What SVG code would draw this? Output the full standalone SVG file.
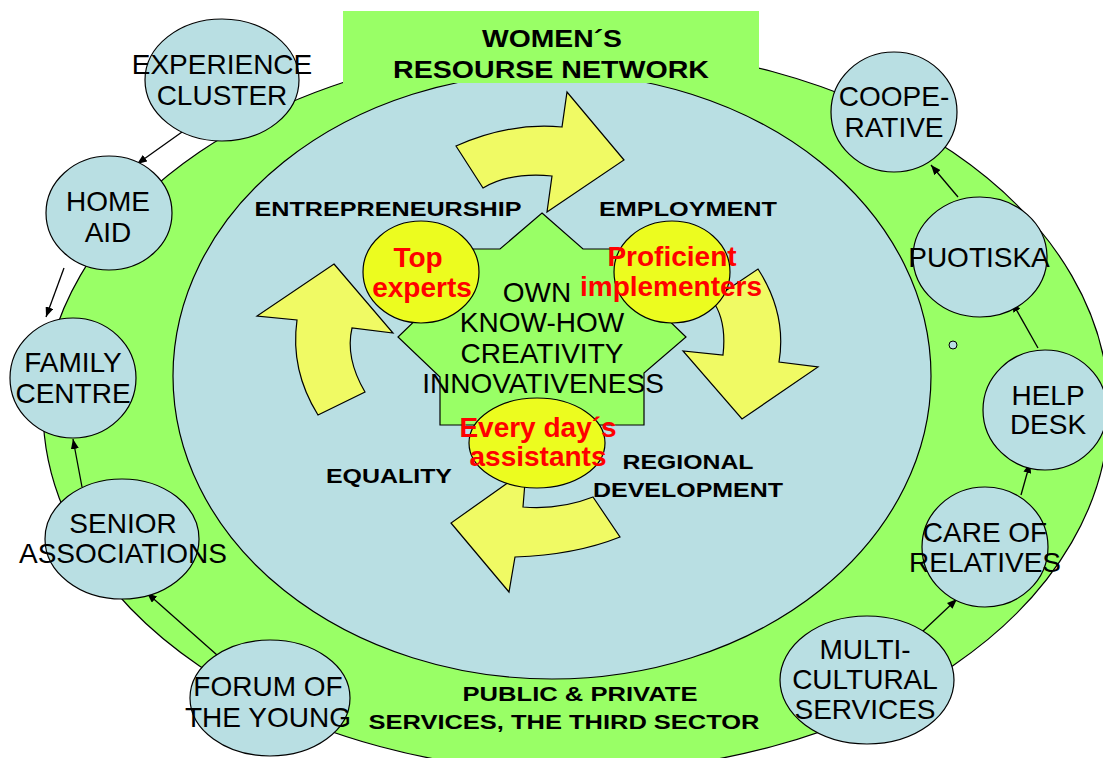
<svg xmlns="http://www.w3.org/2000/svg" width="1103" height="758" viewBox="0 0 1103 758">
<style>
.bg{fill:#ffffff}
.grn{fill:#99FF66}
.blue{fill:#B9DFE3;stroke:#000;stroke-width:1.2}
.node{fill:#B9DFE3;stroke:#000;stroke-width:1.2}
.arw{fill:#F0FA64;stroke:#000;stroke-width:1.2;stroke-linejoin:miter}
.ycirc{fill:#ECFC1F;stroke:#000;stroke-width:1.2}
.t{font-family:"Liberation Sans",Arial,sans-serif;font-size:28px;fill:#000;text-anchor:middle}
.b{font-family:"Liberation Sans",Arial,sans-serif;font-size:21px;font-weight:bold;fill:#000;text-anchor:middle}
.h{font-family:"Liberation Sans",Arial,sans-serif;font-size:24px;font-weight:bold;fill:#000;text-anchor:middle}
.r{font-family:"Liberation Sans",Arial,sans-serif;font-size:28px;font-weight:bold;fill:#FF0000;text-anchor:middle}
.con{stroke:#000;stroke-width:1.3;fill:none;marker-end:url(#ah)}
</style>
<defs>
<marker id="ah" markerUnits="userSpaceOnUse" markerWidth="11" markerHeight="8" refX="10" refY="4" orient="auto">
<path d="M0,0 L10,4 L0,8 z" fill="#000"/>
</marker>
</defs>
<rect class="bg" x="0" y="0" width="1103" height="758"/>

<g id="outer-ring">
<ellipse cx="576" cy="409" rx="533" ry="363" fill="#99FF66" stroke="#000" stroke-width="1.2"/>
</g>
<g id="inner-area">
<ellipse class="blue" cx="552" cy="376" rx="379" ry="303"/>
</g>
<g id="title">
<rect class="grn" x="343" y="11" width="416" height="72"/>
<text class="h" x="552" y="47" textLength="140" lengthAdjust="spacingAndGlyphs">WOMEN´S</text>
<text class="h" x="551" y="78" textLength="316" lengthAdjust="spacingAndGlyphs">RESOURSE NETWORK</text>
</g>

<g id="cycle-arrows">
<path class="arw" d="M456,146 L483,188 Q510,172 552,176 L547,212 L624,160 L567,92 L562,127 Q510,122 456,146 Z"/>
<path class="arw" d="M758,269 Q787,314 779,362 L818,367 L742,419 L683,351 L723,355 Q727,320 712,300 Z"/>
<path class="arw" d="M593,497 L620,537 Q575,555 515,557 L509,592 L451,523 L526,470 L523,507 Q560,510 593,497 Z"/>
<path class="arw" d="M334,264 L393,333 L352,328 Q345,358 365,392 L318,415 Q290,370 297,320 L257,316 Z"/>
</g>

<g id="core">
<path d="M542,213 L583,249 L640,249 L660,312 L686,337 L644,373 L644,425 L440,425 L440,377 L398,337 L424,312 L445,249 L500,249 Z" fill="#99FF66" stroke="#000" stroke-width="1.2"/>
<text class="t" x="537" y="302">OWN</text>
<text class="t" x="542" y="332">KNOW-HOW</text>
<text class="t" x="542" y="363">CREATIVITY</text>
<text class="t" x="543" y="393">INNOVATIVENESS</text>
</g>

<g id="top-experts">
<ellipse class="ycirc" cx="421" cy="272" rx="58" ry="51"/>
<text class="r" x="418" y="267">Top</text>
<text class="r" x="422" y="297">experts</text>
</g>
<g id="proficient-implementers">
<ellipse class="ycirc" cx="672" cy="272" rx="58" ry="51"/>
<text class="r" x="672" y="266">Proficient</text>
<text class="r" x="671" y="296">implementers</text>
</g>
<g id="every-days-assistants">
<ellipse class="ycirc" cx="537" cy="443" rx="68" ry="45"/>
<text class="r" x="538" y="437">Every day´s</text>
<text class="r" x="538" y="466">assistants</text>
</g>

<g id="labels">
<text class="b" x="388" y="216" textLength="267" lengthAdjust="spacingAndGlyphs">ENTREPRENEURSHIP</text>
<text class="b" x="688" y="216" textLength="178" lengthAdjust="spacingAndGlyphs">EMPLOYMENT</text>
<text class="b" x="389" y="483" textLength="126" lengthAdjust="spacingAndGlyphs">EQUALITY</text>
<text class="b" x="688" y="469" textLength="131" lengthAdjust="spacingAndGlyphs">REGIONAL</text>
<text class="b" x="688" y="497" textLength="190" lengthAdjust="spacingAndGlyphs">DEVELOPMENT</text>
<text class="b" x="580" y="701" textLength="235" lengthAdjust="spacingAndGlyphs">PUBLIC &amp; PRIVATE</text>
<text class="b" x="564" y="729" textLength="391" lengthAdjust="spacingAndGlyphs">SERVICES, THE THIRD SECTOR</text>
</g>

<g id="connectors">
<line class="con" x1="182" y1="132" x2="137" y2="164"/>
<line class="con" x1="64" y1="268" x2="46" y2="317"/>
<line class="con" x1="82" y1="487" x2="73" y2="439"/>
<line class="con" x1="217" y1="655" x2="147" y2="593"/>
<line class="con" x1="922" y1="632" x2="957" y2="599"/>
<line class="con" x1="1021" y1="495" x2="1030" y2="463"/>
<line class="con" x1="1038" y1="348" x2="1012" y2="302"/>
<line class="con" x1="958" y1="197" x2="931" y2="165"/>
</g>

<g id="experience-cluster">
<ellipse class="node" cx="222" cy="80" rx="77" ry="61"/>
<text class="t" x="222" y="74">EXPERIENCE</text>
<text class="t" x="222" y="105">CLUSTER</text>
</g>
<g id="home-aid">
<ellipse class="node" cx="109" cy="213" rx="63" ry="57"/>
<text class="t" x="108" y="211">HOME</text>
<text class="t" x="108" y="242">AID</text>
</g>
<g id="family-centre">
<ellipse class="node" cx="73" cy="378" rx="63" ry="60"/>
<text class="t" x="73" y="372">FAMILY</text>
<text class="t" x="73" y="403">CENTRE</text>
</g>
<g id="senior-associations">
<ellipse class="node" cx="122" cy="539" rx="77" ry="60"/>
<text class="t" x="123" y="533">SENIOR</text>
<text class="t" x="123" y="563">ASSOCIATIONS</text>
</g>
<g id="forum-of-the-young">
<ellipse class="node" cx="270" cy="698" rx="80" ry="58"/>
<text class="t" x="268" y="696">FORUM OF</text>
<text class="t" x="268" y="727">THE YOUNG</text>
</g>
<g id="multicultural-services">
<ellipse class="node" cx="867" cy="680" rx="87" ry="64"/>
<text class="t" x="865" y="659">MULTI-</text>
<text class="t" x="865" y="689">CULTURAL</text>
<text class="t" x="865" y="719">SERVICES</text>
</g>
<g id="care-of-relatives">
<ellipse class="node" cx="985" cy="547" rx="63" ry="60"/>
<text class="t" x="985" y="542">CARE OF</text>
<text class="t" x="985" y="572">RELATIVES</text>
</g>
<g id="help-desk">
<ellipse class="node" cx="1045" cy="410" rx="62" ry="60"/>
<text class="t" x="1048" y="405">HELP</text>
<text class="t" x="1048" y="434">DESK</text>
</g>
<g id="puotiska">
<ellipse class="node" cx="980" cy="257" rx="67" ry="60"/>
<text class="t" x="979" y="267">PUOTISKA</text>
</g>
<g id="cooperative">
<ellipse class="node" cx="894" cy="112" rx="63" ry="60"/>
<text class="t" x="894" y="106">COOPE-</text>
<text class="t" x="894" y="137">RATIVE</text>
</g>
<g id="small-dot">
<circle cx="953" cy="345" r="4" fill="#B9DFE3" stroke="#000" stroke-width="1"/>
</g>
</svg>
